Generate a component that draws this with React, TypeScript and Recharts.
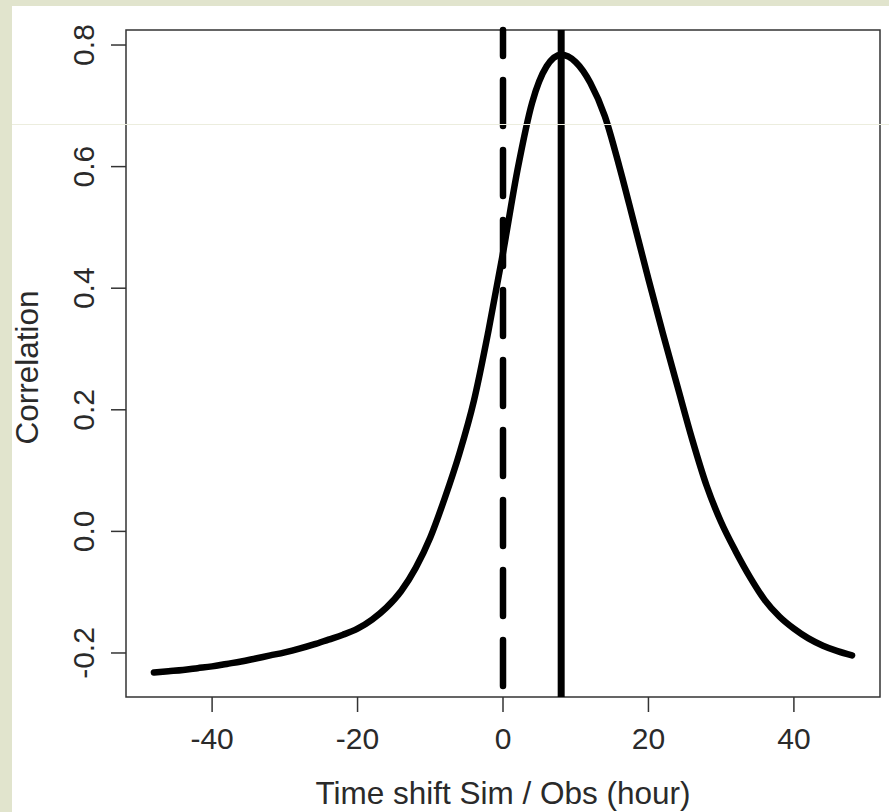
import { LineChart, Line, XAxis, YAxis, ReferenceLine, ReferenceArea, Label } from "recharts";

// cross-correlation of simulated vs observed series, by time shift (hours)
const LAGS = [
  -48, -46, -44, -42, -40, -38, -36, -34, -32, -30, -28, -26, -24, -22, -20, -18, -16,
  -14, -12, -10, -8, -6, -4, -2, 0, 2, 4, 6, 8, 10, 12, 14, 16, 18, 20, 22, 24, 26, 28,
  30, 32, 34, 36, 38, 40, 42, 44, 46, 48,
];
const CORRELATION = [
  -0.232, -0.23, -0.228, -0.225, -0.222, -0.218, -0.214, -0.209, -0.204, -0.199, -0.193,
  -0.186, -0.178, -0.17, -0.16, -0.145, -0.125, -0.098, -0.06, -0.01, 0.055, 0.128,
  0.215, 0.33, 0.458, 0.595, 0.705, 0.765, 0.784, 0.772, 0.738, 0.683, 0.6, 0.508, 0.415,
  0.325, 0.238, 0.152, 0.075, 0.015, -0.033, -0.076, -0.113, -0.14, -0.16, -0.176, -0.188,
  -0.197, -0.204,
];
const X_TICKS = [-40, -20, 0, 20, 40];
const Y_TICKS = [-0.2, 0, 0.2, 0.4, 0.6, 0.8];
const X_DOMAIN: [number, number] = [-51.84, 51.84];
const Y_DOMAIN: [number, number] = [-0.2724, 0.8247];
const ZERO_LAG = 0;
const BEST_LAG = 8;
const X_TITLE = "Time shift Sim / Obs (hour)";
const Y_TITLE = "Correlation";

const FONT = '"Liberation Sans", Arial, Helvetica, sans-serif';
const TICK_SIZE = 30;
const TITLE_SIZE = 31.5;
const TEXT = "#2a2a2a";
const AXIS = "#333";

const data = LAGS.map((lag, i) => ({ lag, r: CORRELATION[i] }));

function XTick({ x, y, payload }: any) {
  return (
    <text x={x} y={y + 35} textAnchor="middle" fill={TEXT} fontFamily={FONT} fontSize={TICK_SIZE}>
      {payload.value}
    </text>
  );
}

function YTick({ x, y, payload }: any) {
  const bx = x - 15;
  return (
    <text
      x={bx}
      y={y}
      transform={`rotate(-90 ${bx} ${y})`}
      textAnchor="middle"
      fill={TEXT}
      fontFamily={FONT}
      fontSize={TICK_SIZE}
    >
      {Number(payload.value).toFixed(1)}
    </text>
  );
}

export default function App() {
  return (
    <div
      style={{
        position: "absolute",
        left: 0,
        top: 0,
        width: 889,
        height: 812,
        background: "#e1e4cd",
        overflow: "hidden",
      }}
    >
      <div style={{ position: "absolute", left: 12, top: 6, right: 0, bottom: 0, background: "#fff" }} />
      <div style={{ position: "absolute", left: 0, top: 0 }}>
        <LineChart width={889} height={812} data={data} margin={{ top: 30, right: 9, bottom: 0, left: 0 }}>
          <XAxis
            dataKey="lag"
            type="number"
            domain={X_DOMAIN}
            ticks={X_TICKS}
            interval={0}
            allowDataOverflow
            height={115}
            axisLine={false}
            tickSize={15}
            tickLine={{ stroke: AXIS, strokeWidth: 1.5 }}
            tick={<XTick />}
          >
            <Label
              content={({ viewBox }: any) => (
                <text
                  x={viewBox.x + viewBox.width / 2}
                  y={viewBox.y + 107}
                  textAnchor="middle"
                  fill={TEXT}
                  fontFamily={FONT}
                  fontSize={TITLE_SIZE}
                >
                  {X_TITLE}
                </text>
              )}
            />
          </XAxis>
          <YAxis
            type="number"
            domain={Y_DOMAIN}
            ticks={Y_TICKS}
            interval={0}
            allowDataOverflow
            width={126}
            axisLine={false}
            tickSize={15}
            tickLine={{ stroke: AXIS, strokeWidth: 1.5 }}
            tick={<YTick />}
          >
            <Label
              content={({ viewBox }: any) => {
                const cx = 38;
                const cy = viewBox.y + viewBox.height / 2 + 4;
                return (
                  <text
                    x={cx}
                    y={cy}
                    transform={`rotate(-90 ${cx} ${cy})`}
                    textAnchor="middle"
                    fill={TEXT}
                    fontFamily={FONT}
                    fontSize={TITLE_SIZE}
                  >
                    {Y_TITLE}
                  </text>
                );
              }}
            />
          </YAxis>
          <ReferenceArea
            x1={X_DOMAIN[0]}
            x2={X_DOMAIN[1]}
            y1={Y_DOMAIN[0]}
            y2={Y_DOMAIN[1]}
            ifOverflow="visible"
            fill="none"
            fillOpacity={0}
            stroke={AXIS}
            strokeWidth={1.5}
          />
          <Line
            dataKey="r"
            type="monotone"
            stroke="#000"
            strokeWidth={6.5}
            strokeLinecap="round"
            strokeLinejoin="round"
            dot={false}
            activeDot={false}
            isAnimationActive={false}
          />
          <ReferenceLine
            x={ZERO_LAG}
            stroke="#000"
            strokeWidth={6.5}
            strokeDasharray="46 24"
            strokeDashoffset={59}
            strokeLinecap="round"
          />
          <ReferenceLine x={BEST_LAG} stroke="#000" strokeWidth={7} />
        </LineChart>
      </div>
      <div style={{ position: "absolute", left: 12, top: 124, width: 877, height: 1, background: "#ecedde" }} />
    </div>
  );
}
